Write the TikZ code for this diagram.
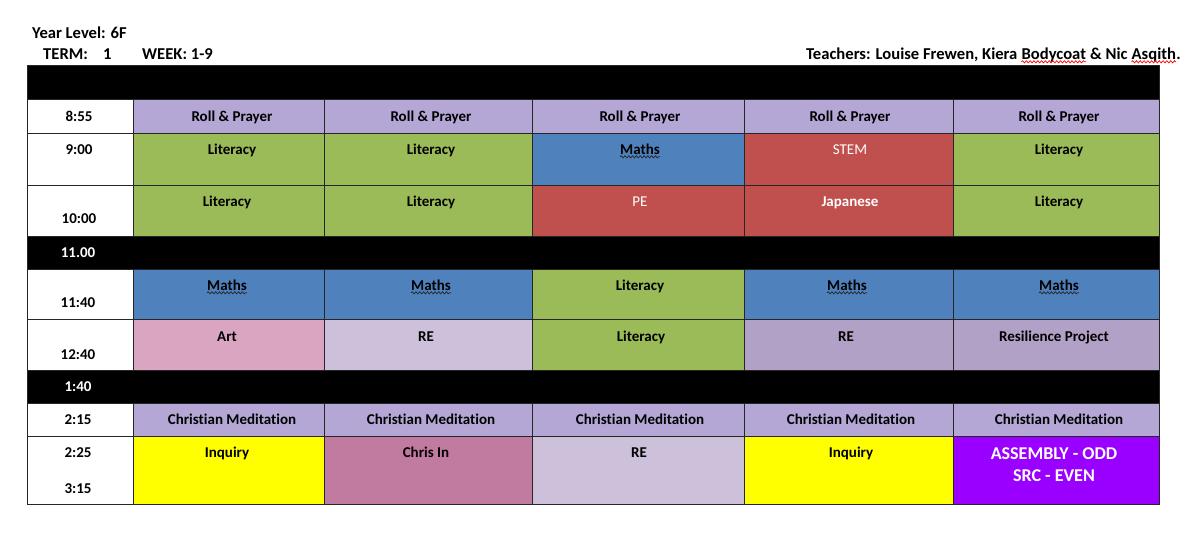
\documentclass[tikz,border=0pt]{standalone}
\usepackage{fontspec}
\setmainfont{Carlito}[Ligatures={NoCommon}]
\usetikzlibrary{decorations.pathmorphing}
\definecolor{lavA}{HTML}{B4A7D6}
\definecolor{lavD}{HTML}{B2A1C7}
\definecolor{lavL}{HTML}{CCC0DA}
\definecolor{grn}{HTML}{9BBB59}
\definecolor{blu}{HTML}{4F81BD}
\definecolor{redc}{HTML}{C0504D}
\definecolor{artc}{HTML}{D9A5C0}
\definecolor{chrc}{HTML}{C27BA0}
\definecolor{yel}{HTML}{FFFF00}
\definecolor{purc}{HTML}{9900FF}
\definecolor{gridc}{HTML}{262626}
\newcommand\tcell[5]{\path[cellline, fill=#5] (#1,#3) rectangle (#2,#4);}
\begin{document}
\begin{tikzpicture}[x=1pt,y=-1pt,
  cellline/.style={draw=gridc, line width=0.8pt},
  txt/.style={inner sep=0pt, anchor=base, font=\fontsize{15}{18}\selectfont\bfseries},
  wtxt/.style={txt, text=white},
  wreg/.style={inner sep=0pt, anchor=base, text=white, font=\fontsize{15}{18}\selectfont},
  head/.style={inner sep=0pt, anchor=base west, font=\fontsize{16.6}{20}\selectfont\bfseries},
  wavy/.style={decorate, decoration={snake, amplitude=1.1pt, segment length=3.8pt}, line width=0.7pt},
  big/.style={inner sep=0pt, anchor=base, text=white, align=center, font=\fontsize{18}{21.5}\selectfont\bfseries}]
\useasboundingbox (0,0) rectangle (1200,549);
\fill[white] (0,0) rectangle (1200,549);
% header texts
\node[head] (yl) at (32,38) {Year Level: 6F};
\node[head] (term) at (43,59) {TERM:};
\node[head] (one) at (103,59) {1};
\node[head] (week) at (142,59) {WEEK: 1-9};
\node[head] (t1) at (806,59) {Teachers: Louise Frewen, Kiera\ \null};
\node[head] (t2) at (t1.base east) {Bodycoat};
\node[head] (t3) at (t2.base east) {\ \&\ Nic\ \null};
\node[head] (t4) at (t3.base east) {Asqith};
\node[head] (t5) at (t4.base east) {.};
\draw[wavy, red] ([yshift=-2.8pt]t2.base west) -- ([yshift=-2.8pt]t2.base east);
\draw[wavy, red] ([yshift=-2.8pt]t4.base west) -- ([yshift=-2.8pt]t4.base east);
% black bars
\tcell{27}{1159}{65}{99}{black}
\tcell{27}{1159}{236}{269}{black}
\tcell{27}{1159}{370}{403}{black}
% row 8:55
\tcell{27}{133}{99}{133}{white}
\tcell{133}{324}{99}{133}{lavA}
\tcell{324}{532}{99}{133}{lavA}
\tcell{532}{744}{99}{133}{lavA}
\tcell{744}{953}{99}{133}{lavA}
\tcell{953}{1159}{99}{133}{lavA}
% row 9:00
\tcell{27}{133}{133}{185}{white}
\tcell{133}{324}{133}{185}{grn}
\tcell{324}{532}{133}{185}{grn}
\tcell{532}{744}{133}{185}{blu}
\tcell{744}{953}{133}{185}{redc}
\tcell{953}{1159}{133}{185}{grn}
% row 10:00
\tcell{27}{133}{185}{236}{white}
\tcell{133}{324}{185}{236}{grn}
\tcell{324}{532}{185}{236}{grn}
\tcell{532}{744}{185}{236}{redc}
\tcell{744}{953}{185}{236}{redc}
\tcell{953}{1159}{185}{236}{grn}
% row 11:40
\tcell{27}{133}{269}{319}{white}
\tcell{133}{324}{269}{319}{blu}
\tcell{324}{532}{269}{319}{blu}
\tcell{532}{744}{269}{319}{grn}
\tcell{744}{953}{269}{319}{blu}
\tcell{953}{1159}{269}{319}{blu}
% row 12:40
\tcell{27}{133}{319}{370}{white}
\tcell{133}{324}{319}{370}{artc}
\tcell{324}{532}{319}{370}{lavL}
\tcell{532}{744}{319}{370}{grn}
\tcell{744}{953}{319}{370}{lavD}
\tcell{953}{1159}{319}{370}{lavD}
% row 2:15
\tcell{27}{133}{403}{436}{white}
\tcell{133}{324}{403}{436}{lavA}
\tcell{324}{532}{403}{436}{lavA}
\tcell{532}{744}{403}{436}{lavA}
\tcell{744}{953}{403}{436}{lavA}
\tcell{953}{1159}{403}{436}{lavA}
% row 2:25
\tcell{27}{133}{436}{504}{white}
\tcell{133}{324}{436}{504}{yel}
\tcell{324}{532}{436}{504}{chrc}
\tcell{532}{744}{436}{504}{lavL}
\tcell{744}{953}{436}{504}{yel}
\tcell{953}{1159}{436}{504}{purc}
% time labels
\node[txt] (h855) at (79,121) {8:55};
\node[txt] (h900) at (79,154) {9:00};
\node[txt] (h1000) at (79,223) {10:00};
\node[wtxt] (h1100) at (78,257) {11.00};
\node[txt] (h1140) at (78,307) {11:40};
\node[txt] (h1240) at (78,359) {12:40};
\node[wtxt] (h140) at (78,391) {1:40};
\node[txt] (h215) at (78,424) {2:15};
\node[txt] (h225) at (78,457) {2:25};
\node[txt] (h315) at (78,493) {3:15};
% row 8:55 texts
\node[txt] (a1) at (232,121) {Roll \& Prayer};
\node[txt] (a2) at (431,121) {Roll \& Prayer};
\node[txt] (a3) at (640,121) {Roll \& Prayer};
\node[txt] (a4) at (850,121) {Roll \& Prayer};
\node[txt] (a5) at (1059,121) {Roll \& Prayer};
% row 9:00 texts
\node[txt] (b1) at (232,154) {Literacy};
\node[txt] (b2) at (431,154) {Literacy};
\node[txt] (b3) at (640,154) {Maths};
\node[wreg] (b4) at (850,154) {STEM};
\node[txt] (b5) at (1059,154) {Literacy};
% row 10:00 texts
\node[txt] (c1) at (227,206) {Literacy};
\node[txt] (c2) at (431,206) {Literacy};
\node[wreg] (c3) at (640,206) {PE};
\node[wtxt] (c4) at (850,206) {Japanese};
\node[txt] (c5) at (1059,206) {Literacy};
% row 11:40 texts
\node[txt] (d1) at (227,290) {Maths};
\node[txt] (d2) at (431,290) {Maths};
\node[txt] (d3) at (640,290) {Literacy};
\node[txt] (d4) at (847,290) {Maths};
\node[txt] (d5) at (1059,290) {Maths};
% row 12:40 texts
\node[txt] (e1) at (227,341) {Art};
\node[txt] (e2) at (426,341) {RE};
\node[txt] (e3) at (641,341) {Literacy};
\node[txt] (e4) at (846,341) {RE};
\node[txt] (e5) at (1054,341) {Resilience Project};
% row 2:15 texts
\node[txt] (f1) at (232,424) {Christian Meditation};
\node[txt] (f2) at (431,424) {Christian Meditation};
\node[txt] (f3) at (640,424) {Christian Meditation};
\node[txt] (f4) at (851,424) {Christian Meditation};
\node[txt] (f5) at (1059,424) {Christian Meditation};
% row 2:25 texts
\node[txt] (g1) at (227,457) {Inquiry};
\node[txt] (g2) at (426,457) {Chris In};
\node[txt] (g3) at (639,457) {RE};
\node[txt] (g4) at (851,457) {Inquiry};
\node[big] (g5) at (1054,481) {ASSEMBLY - ODD\\SRC - EVEN};
% wavy underlines under Maths
\foreach \m in {b3,d1,d2,d4,d5}{
  \draw[wavy, gridc] ([yshift=-2.8pt]\m.base west) -- ([yshift=-2.8pt]\m.base east);
}
\end{tikzpicture}
\end{document}
